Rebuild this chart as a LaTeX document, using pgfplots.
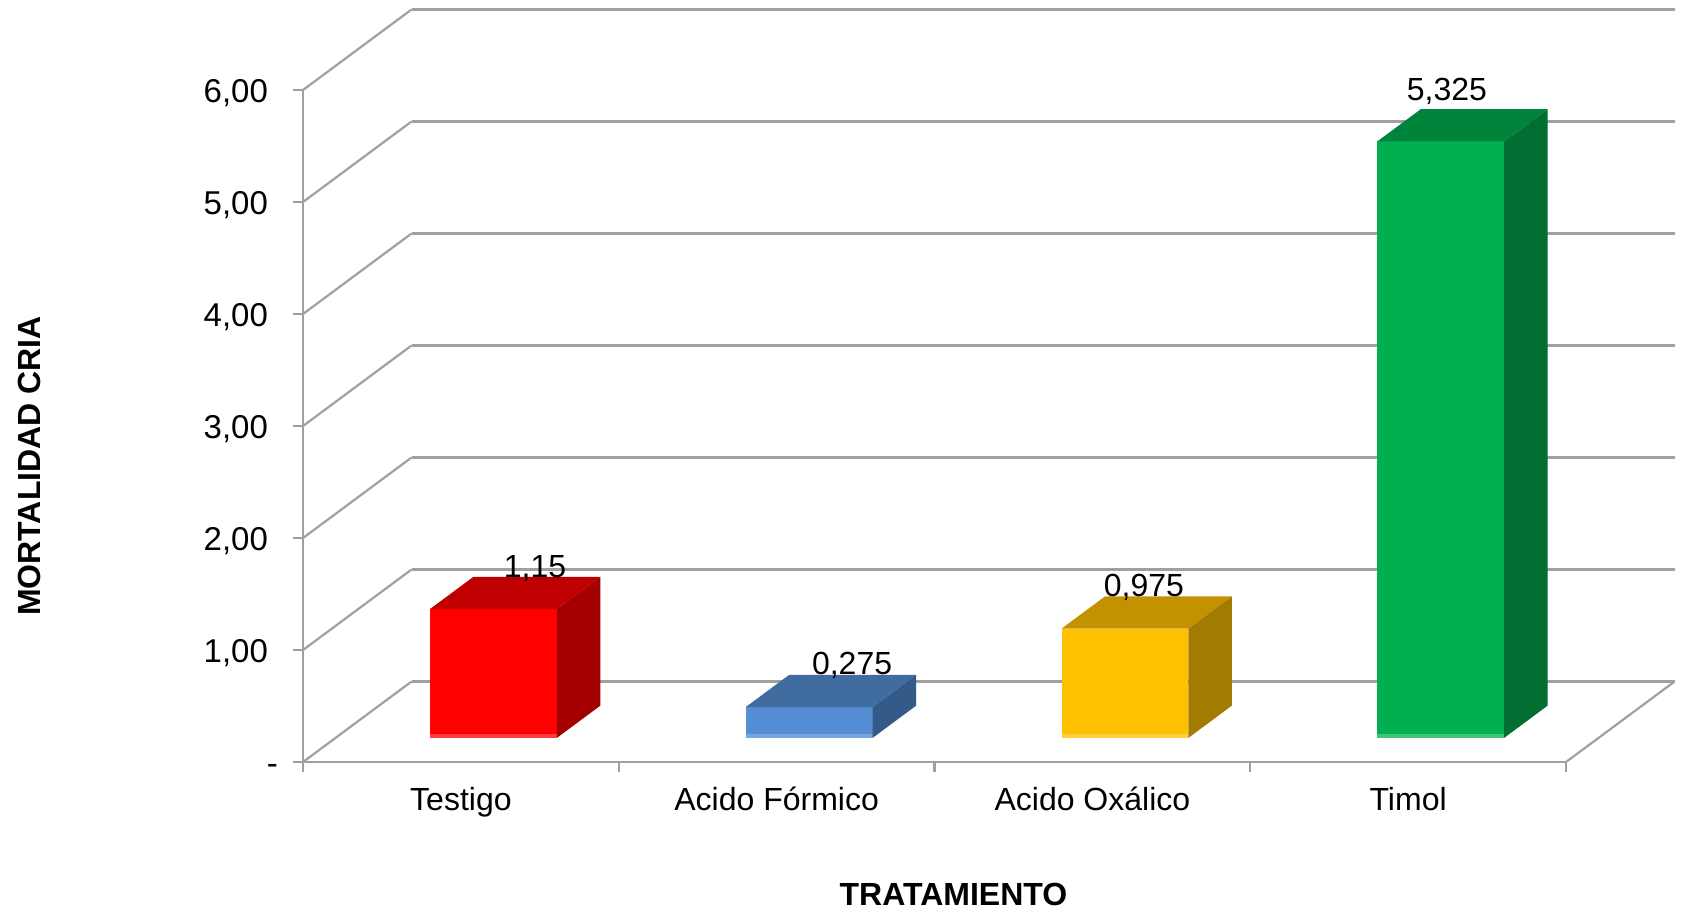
\documentclass[border=0pt]{standalone}
\usepackage{fontspec}
\setmainfont{Liberation Sans}
\usepackage{pgfplots}
\pgfplotsset{compat=1.18}
\definecolor{gridc}{HTML}{A0A0A0}
\definecolor{rF}{HTML}{FF0000}\definecolor{rT}{HTML}{C00000}\definecolor{rS}{HTML}{A40000}\definecolor{rB}{HTML}{FF3B3B}
\definecolor{bF}{HTML}{558ED5}\definecolor{bT}{HTML}{416C9F}\definecolor{bS}{HTML}{335A88}\definecolor{bB}{HTML}{7AA6E0}
\definecolor{yF}{HTML}{FFC000}\definecolor{yT}{HTML}{C49200}\definecolor{yS}{HTML}{A37B00}\definecolor{yB}{HTML}{FFCE40}
\definecolor{gF}{HTML}{00B050}\definecolor{gT}{HTML}{00843C}\definecolor{gS}{HTML}{006F31}\definecolor{gB}{HTML}{40C47A}
\begin{document}
\begin{tikzpicture}
\begin{axis}[
  width=631.5pt, height=336pt, scale only axis,
  xmin=0, xmax=4, ymin=0, ymax=6, clip=false,
  axis x line*=bottom, axis y line*=left,
  axis line style={draw=gridc, line width=1.1pt, -},
  tick align=outside,
  major tick length=5pt,
  every tick/.style={draw=gridc, line width=1.1pt},
  ytick={0,1,2,3,4,5,6},
  yticklabels={{-\hspace*{-5pt}},{1,00},{2,00},{3,00},{4,00},{5,00},{6,00}},
  xtick={0,1,2,3,4}, xticklabels={},
  extra x ticks={0.5,1.5,2.5,3.5},
  extra x tick labels={Testigo,Acido Fórmico,Acido Oxálico,Timol},
  extra x tick style={major tick length=0pt},
  tick label style={text=black},
  yticklabel style={anchor=base east, xshift=-9pt, yshift=-6.3pt, font=\fontsize{16.5}{18}\selectfont},
  xticklabel style={anchor=base, yshift=-24pt, font=\fontsize{16}{18}\selectfont},
  xlabel={TRATAMIENTO},
  ylabel={MORTALIDAD CRIA},
  xlabel style={at={(axis description cs:0.515,-0.1964)}, anchor=center, font=\fontsize{16}{18}\selectfont\bfseries},
  ylabel style={at={(axis description cs:-0.2169,0.4405)}, anchor=center, font=\fontsize{16}{18}\selectfont\bfseries},
]
% bounding box of the whole picture
\path (axis cs:-0.9596,-1.339) rectangle (axis cs:4.3895,6.8036);

% back wall gridlines
\addplot[gridc, line width=1.1pt] coordinates {(0.344,0.719) (4.344,0.719)};
\addplot[gridc, line width=1.1pt] coordinates {(0.344,1.719) (4.344,1.719)};
\addplot[gridc, line width=1.1pt] coordinates {(0.344,2.719) (4.344,2.719)};
\addplot[gridc, line width=1.1pt] coordinates {(0.344,3.719) (4.344,3.719)};
\addplot[gridc, line width=1.1pt] coordinates {(0.344,4.719) (4.344,4.719)};
\addplot[gridc, line width=1.1pt] coordinates {(0.344,5.719) (4.344,5.719)};
\addplot[gridc, line width=1.1pt] coordinates {(0.344,6.719) (4.344,6.719)};
% side wall diagonals
\addplot[gridc, line width=1.1pt] coordinates {(0,0) (0.344,0.719)};
\addplot[gridc, line width=1.1pt] coordinates {(0,1) (0.344,1.719)};
\addplot[gridc, line width=1.1pt] coordinates {(0,2) (0.344,2.719)};
\addplot[gridc, line width=1.1pt] coordinates {(0,3) (0.344,3.719)};
\addplot[gridc, line width=1.1pt] coordinates {(0,4) (0.344,4.719)};
\addplot[gridc, line width=1.1pt] coordinates {(0,5) (0.344,5.719)};
\addplot[gridc, line width=1.1pt] coordinates {(0,6) (0.344,6.719)};
% floor right edge
\addplot[gridc, line width=1.1pt] coordinates {(4,0) (4.344,0.719)};

% Testigo 1.15
\addplot[fill=rF, draw=none] coordinates {(0.4022,0.2157) (0.8042,0.2157) (0.8042,1.3657) (0.4022,1.3657)} -- cycle;
\addplot[fill=rB, draw=none] coordinates {(0.4022,0.2157) (0.8042,0.2157) (0.8042,0.2457) (0.4022,0.2457)} -- cycle;
\addplot[fill=rT, draw=none] coordinates {(0.4022,1.3657) (0.8042,1.3657) (0.9418,1.6533) (0.5398,1.6533)} -- cycle;
\addplot[fill=rS, draw=none] coordinates {(0.8042,0.2157) (0.9418,0.5033) (0.9418,1.6533) (0.8042,1.3657)} -- cycle;
% Acido Formico 0.275
\addplot[fill=bF, draw=none] coordinates {(1.4022,0.2157) (1.8042,0.2157) (1.8042,0.4907) (1.4022,0.4907)} -- cycle;
\addplot[fill=bB, draw=none] coordinates {(1.4022,0.2157) (1.8042,0.2157) (1.8042,0.2457) (1.4022,0.2457)} -- cycle;
\addplot[fill=bT, draw=none] coordinates {(1.4022,0.4907) (1.8042,0.4907) (1.9418,0.7783) (1.5398,0.7783)} -- cycle;
\addplot[fill=bS, draw=none] coordinates {(1.8042,0.2157) (1.9418,0.5033) (1.9418,0.7783) (1.8042,0.4907)} -- cycle;
% Acido Oxalico 0.975
\addplot[fill=yF, draw=none] coordinates {(2.4022,0.2157) (2.8042,0.2157) (2.8042,1.1907) (2.4022,1.1907)} -- cycle;
\addplot[fill=yB, draw=none] coordinates {(2.4022,0.2157) (2.8042,0.2157) (2.8042,0.2457) (2.4022,0.2457)} -- cycle;
\addplot[fill=yT, draw=none] coordinates {(2.4022,1.1907) (2.8042,1.1907) (2.9418,1.4783) (2.5398,1.4783)} -- cycle;
\addplot[fill=yS, draw=none] coordinates {(2.8042,0.2157) (2.9418,0.5033) (2.9418,1.4783) (2.8042,1.1907)} -- cycle;
% Timol 5.325
\addplot[fill=gF, draw=none] coordinates {(3.4022,0.2157) (3.8042,0.2157) (3.8042,5.5407) (3.4022,5.5407)} -- cycle;
\addplot[fill=gB, draw=none] coordinates {(3.4022,0.2157) (3.8042,0.2157) (3.8042,0.2457) (3.4022,0.2457)} -- cycle;
\addplot[fill=gT, draw=none] coordinates {(3.4022,5.5407) (3.8042,5.5407) (3.9418,5.8283) (3.5398,5.8283)} -- cycle;
\addplot[fill=gS, draw=none] coordinates {(3.8042,0.2157) (3.9418,0.5033) (3.9418,5.8283) (3.8042,5.5407)} -- cycle;

% value labels
\addplot[draw=none, mark=none, nodes near coords, point meta=explicit symbolic,
  nodes near coords align={center},
  every node near coord/.append style={font=\fontsize{16}{18}\selectfont, text=black, inner sep=0pt}]
  table[meta=lab] {
x y lab
0.735 1.723 1,15
1.739 0.866 0,275
2.663 1.5625 0,975
3.623 5.99 5,325
};
\end{axis}
\end{tikzpicture}
\end{document}
